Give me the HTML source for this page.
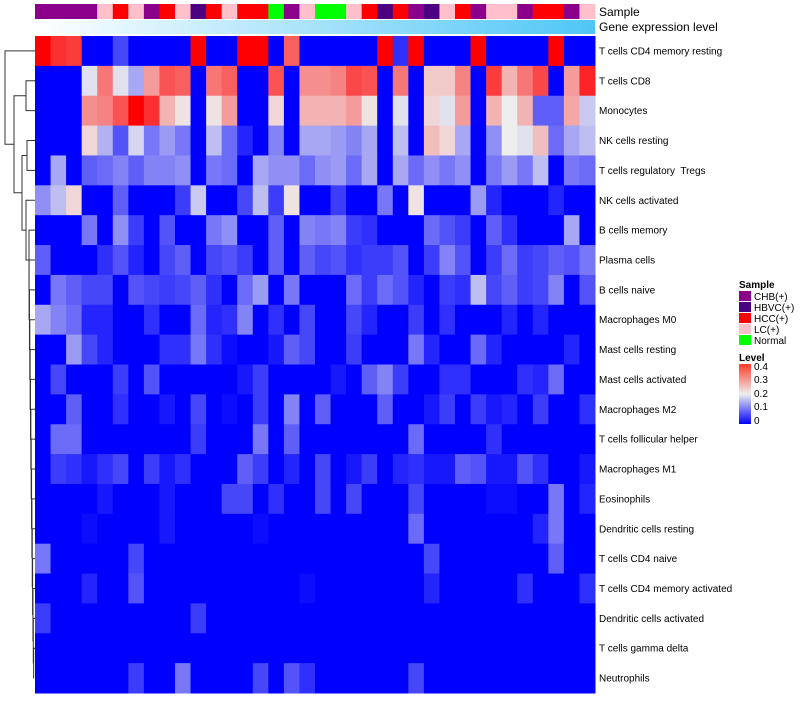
<!DOCTYPE html>
<html><head><meta charset="utf-8"><style>
body{margin:0;background:#fff;width:800px;height:700px;overflow:hidden;font-family:"Liberation Sans",sans-serif}
svg text{font-family:"Liberation Sans",sans-serif;white-space:pre}
</style></head><body>
<svg id="chart" width="800" height="700" xmlns="http://www.w3.org/2000/svg">
<defs>
<linearGradient id="geneGrad" x1="0" x2="1" y1="0" y2="0"><stop offset="0" stop-color="#ffffff"/><stop offset="1" stop-color="#4fc6f6"/></linearGradient>
<linearGradient id="levelGrad" x1="0" x2="0" y1="1" y2="0"><stop offset="0" stop-color="#0000ff"/><stop offset="0.5" stop-color="#eeeeee"/><stop offset="1" stop-color="#ff3b2a"/></linearGradient>
</defs>
<g id="dendro" fill="none" stroke="#333" stroke-width="1"></g>
<g id="cells"></g>
<g id="sampleBar"></g>
<rect x="35" y="20" width="560" height="14" fill="url(#geneGrad)"/>
<text x="599" y="16" font-size="12">Sample</text>
<text x="599" y="31" font-size="12">Gene expression level</text>
<g id="rowLabels" font-size="10"></g>
<g font-size="10">
<text x="739" y="288" font-weight="bold">Sample</text>
<rect x="739" y="291" width="12" height="10" fill="#8b008b"/><text x="754" y="300">CHB(+)</text>
<rect x="739" y="302" width="12" height="10" fill="#4b0082"/><text x="754" y="311">HBVC(+)</text>
<rect x="739" y="313" width="12" height="10" fill="#ff0000"/><text x="754" y="322">HCC(+)</text>
<rect x="739" y="324" width="12" height="10" fill="#ffc0cb"/><text x="754" y="333">LC(+)</text>
<rect x="739" y="335" width="12" height="10" fill="#00ff00"/><text x="754" y="344">Normal</text>
</g>
<g font-size="10">
<text x="739" y="361" font-weight="bold">Level</text>
<rect x="739" y="364" width="12" height="60" fill="url(#levelGrad)"/>
<text x="754" y="370">0.4</text><text x="754" y="383">0.3</text><text x="754" y="397">0.2</text><text x="754" y="410">0.1</text><text x="754" y="424">0</text>
</g>
</svg>
<script>
const rowNames=["T cells CD4 memory resting","T cells CD8","Monocytes","NK cells resting","T cells regulatory  Tregs","NK cells activated","B cells memory","Plasma cells","B cells naive","Macrophages M0","Mast cells resting","Mast cells activated","Macrophages M2","T cells follicular helper","Macrophages M1","Eosinophils","Dendritic cells resting","T cells CD4 naive","T cells CD4 memory activated","Dendritic cells activated","T cells gamma delta","Neutrophils"];
const sampleGroups=["CHB","CHB","CHB","CHB","LC","HCC","LC","CHB","HCC","LC","HBVC","HCC","LC","HCC","HCC","Normal","CHB","LC","Normal","Normal","LC","HCC","HBVC","HCC","CHB","HBVC","LC","HCC","CHB","LC","LC","CHB","HCC","HCC","CHB","LC"];
const r0=[.4,.36,.35,0,0,.06,0,0,0,0,.4,0,0,.4,.4,0,.32,0,0,0,0,0,.4,.04,.4,0,0,0,.4,0,0,0,0,.4,0,0];
const r1=[0,0,0,.19,.3,.19,.14,.27,.33,.32,0,.3,.32,0,0,.33,0,.28,.28,.29,.34,.33,0,.3,0,.23,.23,.29,0,.35,.25,.3,.34,0,.27,.37];
const r2=[0,0,0,.28,.29,.33,.4,.36,.25,.21,0,.21,.27,0,0,.22,0,.25,.25,.25,.27,.21,0,.19,0,.22,.19,.27,0,.25,.2,.25,.08,.08,.26,.17];
const r3=[0,0,0,.22,.15,.07,.18,.1,.13,.1,0,.16,.09,.03,0,.11,0,.14,.14,.13,.11,.14,0,.16,0,.24,.22,.14,0,.12,.2,.19,.24,.09,.14,.16];
const r4=[0,.14,0,.08,.09,.11,.08,.11,.11,.12,0,.1,.09,0,.14,.12,.12,.09,.12,.13,.09,.14,0,.14,.09,.12,.1,.12,0,.1,.13,.1,.16,0,.1,.09];
const r5=[.12,.16,.22,0,0,.08,0,0,0,.05,.17,0,0,.06,.16,.05,.21,0,0,.05,0,0,.1,0,.21,0,0,0,.13,.03,0,0,0,.03,0,0];
const r6=[0,0,0,.1,0,.12,.05,0,.07,0,0,.1,.12,0,0,.08,0,.11,.1,.11,.05,.04,0,0,0,.09,.07,.05,0,.08,.04,0,0,0,.14,0];
const r7=[.08,0,0,0,.04,.07,.03,0,.06,.08,0,.06,.07,.05,0,.08,0,.08,.06,.07,.04,.05,.05,.07,0,.05,.11,.07,0,.05,.09,.05,.06,.08,.07,.1];
const r8=[0,.1,.08,.06,.06,0,.07,.06,.05,.06,.08,.04,0,.09,.13,0,.1,0,0,0,.09,.05,.09,.07,.03,0,.05,.04,.16,.06,.08,.05,.06,.11,0,.07];
const r9=[.14,.11,.09,.03,.03,0,0,.04,0,0,.09,.03,.04,.11,0,.04,0,.06,0,0,.06,.03,0,0,.05,0,.04,0,0,0,.03,0,.03,0,0,0];
const r10=[0,0,.13,.06,.03,0,0,0,.04,.04,.1,.04,.01,0,0,.02,.08,.06,0,0,.05,0,0,0,.1,.03,0,0,.09,.03,0,0,0,0,.03,0];
const r11=[0,.06,0,0,0,.05,0,.07,0,0,0,0,0,.02,.05,0,0,0,0,.02,0,.08,.11,.05,0,0,.04,.04,0,0,0,.04,.03,.09,0,0];
const r12=[0,0,.08,0,0,.04,0,0,.02,0,.06,0,.01,0,.05,0,.11,0,.08,0,0,0,.08,0,0,.02,.05,0,.05,.02,.03,0,.05,0,0,.04];
const r13=[0,.09,.09,0,0,0,0,0,0,0,.05,0,0,0,.1,0,.08,0,0,0,0,0,0,0,.09,0,0,0,0,.04,0,0,0,0,0,0];
const r14=[0,.05,.04,.02,.04,.06,0,.05,.02,.04,0,0,0,.08,.05,0,.03,0,.06,0,.02,.05,0,.03,.04,.02,.02,.08,.07,.02,.02,.07,.04,0,0,.02];
const r15=[0,0,0,0,.02,0,0,0,.02,0,0,0,.06,.06,0,.04,0,0,.06,0,.06,0,0,0,.06,0,0,0,0,.01,.01,0,0,.1,0,.03];
const r16=[0,0,0,.01,0,0,0,0,.02,0,0,0,0,0,.01,0,0,0,0,0,0,0,0,0,.09,0,0,0,0,0,0,0,.03,.1,0,0];
const r17=[.1,0,0,0,0,0,.06,0,0,0,0,0,0,0,0,0,0,0,0,0,0,0,0,0,0,.06,0,0,0,0,0,0,0,.08,0,0];
const r18=[0,0,0,.03,0,0,.07,0,0,0,0,0,0,0,0,0,0,.01,0,0,0,0,0,0,0,.03,0,0,0,0,0,.04,0,0,0,.04];
const r19=[.05,0,0,0,0,0,0,0,0,0,.05,0,0,0,0,0,0,0,0,0,0,0,0,0,0,0,0,0,0,0,0,0,0,0,0,0];
const r20=[0,0,0,0,0,0,0,0,0,0,0,0,0,0,0,0,0,0,0,0,0,0,0,0,0,0,0,0,0,0,0,0,0,0,0,0];
const r21=[0,0,0,0,0,0,.05,0,0,.1,0,0,0,0,.06,0,.07,.04,0,0,0,0,0,0,.06,0,0,0,0,0,0,0,0,0,0,0];
const matrix=[r0,r1,r2,r3,r4,r5,r6,r7,r8,r9,r10,r11,r12,r13,r14,r15,r16,r17,r18,r19,r20,r21];
const groupColors={CHB:"#8b008b",HBVC:"#4b0082",HCC:"#ff0000",LC:"#ffc0cb",Normal:"#00ff00"};
const NS="http://www.w3.org/2000/svg";
const X0=35,X1=595,Y0=36,Y1=693;
const nC=sampleGroups.length,nR=rowNames.length;
const cw=(X1-X0)/nC,rh=(Y1-Y0)/nR;
const xPos=c=>X0+c*cw, yPos=r=>Y0+r*rh;
function color(v){
  const t=Math.max(0,Math.min(0.4,v));
  let a,b,f;
  if(t<=0.2){a=[0,0,255];b=[238,238,238];f=t/0.2;}else{a=[238,238,238];b=[255,0,0];f=(t-0.2)/0.2;}
  return `rgb(${a.map((x,i)=>Math.round(x+(b[i]-x)*f)).join(",")})`;
}
const cells=document.getElementById("cells");
matrix.forEach((row,r)=>row.forEach((v,c)=>{
  const el=document.createElementNS(NS,"rect");
  el.setAttribute("x",xPos(c));el.setAttribute("y",yPos(r));
  el.setAttribute("width",cw+0.5);el.setAttribute("height",rh+0.5);
  el.setAttribute("fill",color(v));
  
  
  cells.appendChild(el);
}));
const sb=document.getElementById("sampleBar");
sampleGroups.forEach((g,c)=>{
  const el=document.createElementNS(NS,"rect");
  el.setAttribute("x",xPos(c));el.setAttribute("y",4);
  el.setAttribute("width",cw+0.5);el.setAttribute("height",15);
  el.setAttribute("fill",groupColors[g]);
  
  
  sb.appendChild(el);
});
const rl=document.getElementById("rowLabels");
rowNames.forEach((n,r)=>{
  const t=document.createElementNS(NS,"text");
  t.setAttribute("x",599);t.setAttribute("y",yPos(r)+rh/2+3.5);
  t.textContent=n;
  
  
  rl.appendChild(t);
});
const d=document.getElementById("dendro");
const ym=r=>yPos(r)+rh/2;
function link(xa,ya,xb,yb,xn){
  const p=document.createElementNS(NS,"path");
  p.setAttribute("d",`M${xa},${ya}H${xn}V${yb}H${xb}`);
  d.appendChild(p);
}
const n12y=(ym(1)+ym(2))/2; link(35,ym(1),35,ym(2),26);
const n34y=(ym(3)+ym(4))/2; link(35,ym(3),35,ym(4),27);
let cy=ym(21),cx=34;
for(let r=20;r>=6;r--){const nx=Math.max(29,34-(21-r)*0.35);link(cx,cy,35,ym(r),nx);cy=(cy+ym(r))/2;cx=nx;}
const n5y=(ym(5)+cy)/2; link(35,ym(5),cx,cy,26);
const nBy=(n34y+n5y)/2; link(27,n34y,26,n5y,22);
const nAy=(n12y+nBy)/2; link(26,n12y,22,nBy,14);
link(35,ym(0),14,nAy,5);
</script>
</body></html>
